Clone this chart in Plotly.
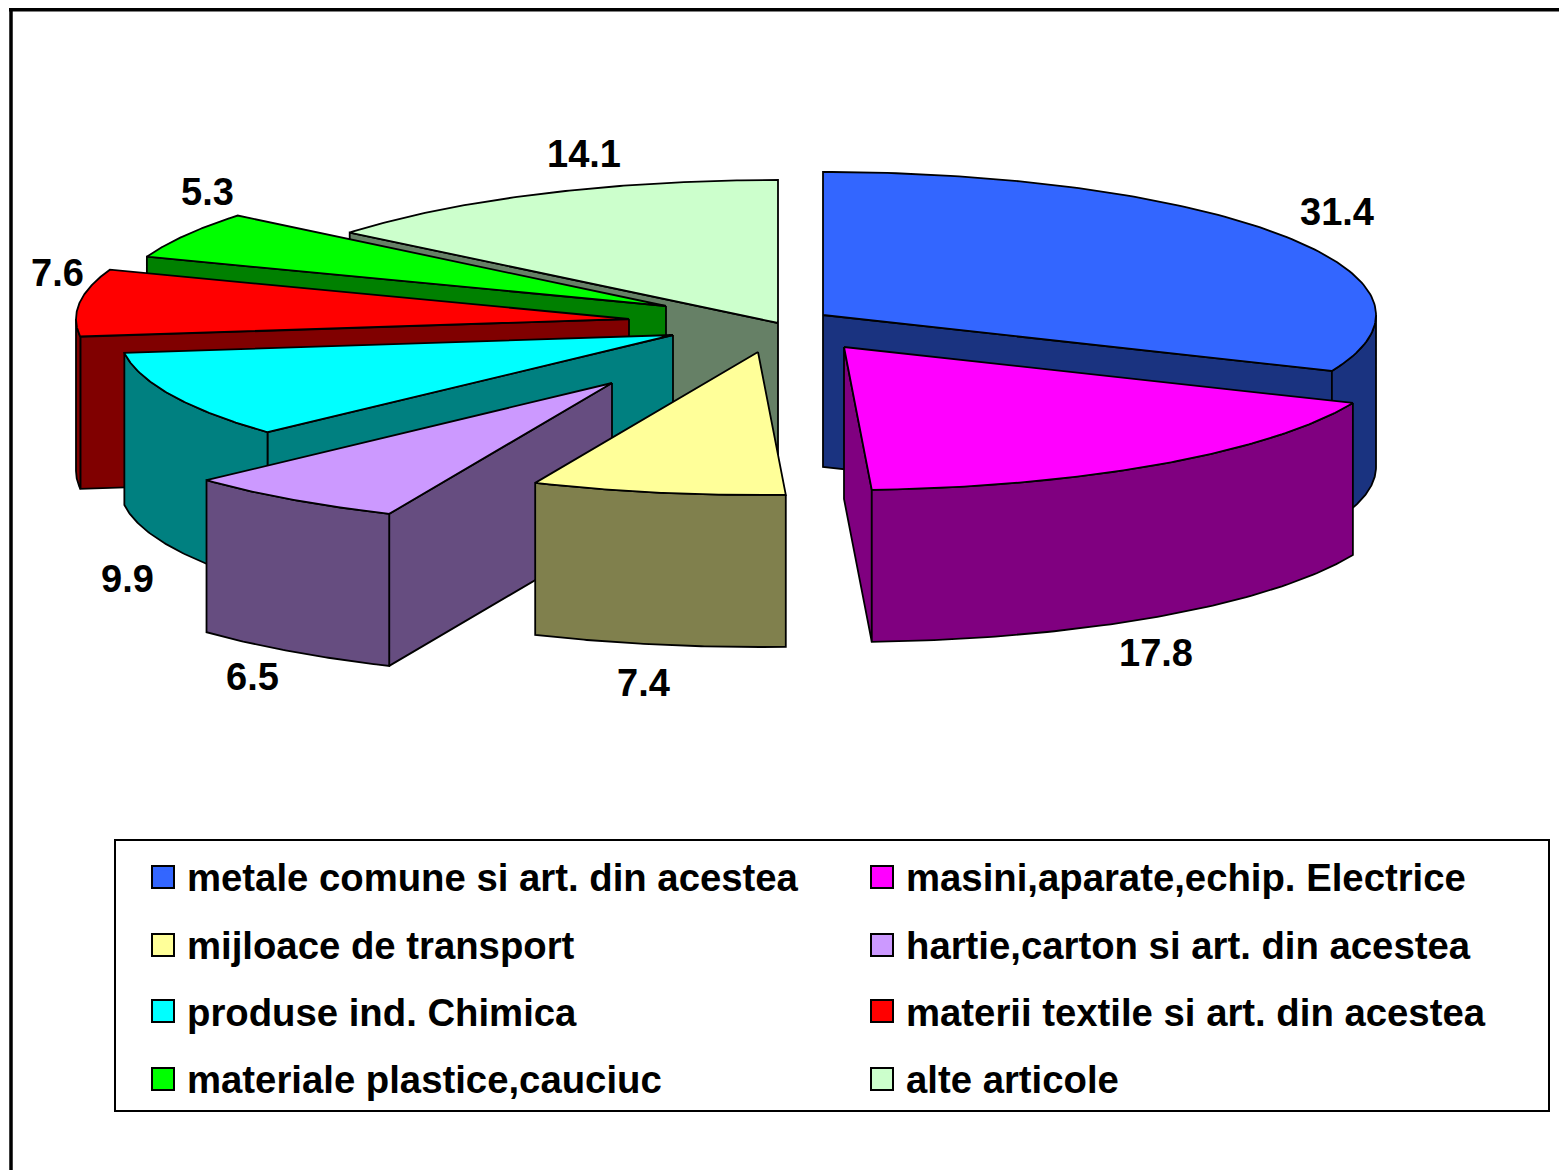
import numpy as np
import plotly.graph_objects as go

# ---- data ----
CATEGORIES = ["metale comune si art. din acestea", "masini,aparate,echip. Electrice",
              "mijloace de transport", "hartie,carton si art. din acestea",
              "produse ind. Chimica", "materii textile si art. din acestea",
              "materiale plastice,cauciuc", "alte articole"]
VALUES = [31.4, 17.8, 7.4, 6.5, 9.9, 7.6, 5.3, 14.1]

# ---- style ----
TOP_COLORS = ["#3366FF", "#FF00FF", "#FFFF99", "#CC99FF", "#00FFFF", "#FF0000", "#00FF00", "#CCFFCC"]
WALL_COLORS = ["#1A3380", "#800080", "#80804D", "#664D80", "#008080", "#800000", "#008000", "#668066"]
# exploded centre of each slice, in plot units
CENTRES = [(823, 315), (844, 347), (758, 352), (612, 383), (673, 335), (629, 319), (666, 306), (778, 323)]
LABEL_POS = [(1337, 212), (1156, 653), (643, 683), (252, 677), (127, 579), (57, 273), (207, 192), (584, 154)]
DRAW_ORDER = [7, 6, 5, 4, 3, 2, 0, 1]
RX, RY, DEPTH = 553, 143, 152
W, H = 1559, 1170
FONT = "Liberation Sans"
LABEL_SIZE = 38
LEGEND_SIZE = 38.3

total = sum(VALUES)
edges = np.concatenate([[0], np.cumsum(VALUES)]) / total * 2 * np.pi


def rim(cx, cy, t):
    return cx + RX * np.sin(t), cy - RY * np.cos(t)


def poly(xs, ys, fill):
    return go.Scatter(x=list(xs), y=list(ys), mode="lines", fill="toself", fillcolor=fill,
                      line=dict(color="black", width=1.8), hoverinfo="skip", showlegend=False)


fig = go.Figure()

for i in DRAW_ORDER:
    a, b = edges[i], edges[i + 1]
    cx, cy = CENTRES[i]
    wall = WALL_COLORS[i]
    # radial wall at the start / end of the slice, when it faces the viewer
    for t, visible in ((a, np.sin(a) < -1e-6), (b, np.sin(b) > 1e-6)):
        if visible:
            px, py = rim(cx, cy, t)
            fig.add_trace(poly([cx, px, px, cx, cx], [cy, py, py + DEPTH, cy + DEPTH, cy], wall))
    # outer wall, front half of the rim only
    lo, hi = max(a, np.pi / 2), min(b, 3 * np.pi / 2)
    if hi > lo:
        t = np.linspace(lo, hi, 80)
        rx, ry = rim(cx, cy, t)
        fig.add_trace(poly(np.r_[rx, rx[::-1], rx[0]], np.r_[ry, ry[::-1] + DEPTH, ry[0]], wall))
    # top face
    t = np.linspace(a, b, 120)
    rx, ry = rim(cx, cy, t)
    fig.add_trace(poly(np.r_[cx, rx, cx], np.r_[cy, ry, cy], TOP_COLORS[i]))

# legend entries (two columns)
for i, (name, col) in enumerate(zip(CATEGORIES, TOP_COLORS)):
    fig.add_trace(go.Scatter(x=[None], y=[None], mode="markers", name=name,
                             marker=dict(symbol="square", size=12, color=col),
                             legend="legend" if i % 2 == 0 else "legend2",
                             legendgroup=f"g{i}", hoverinfo="skip"))

annotations = [dict(x=x, y=y, text=f"{v:.1f}", showarrow=False, xanchor="center", yanchor="middle",
                    font=dict(family=FONT, size=LABEL_SIZE, color="black", weight=700))
               for v, (x, y) in zip(VALUES, LABEL_POS)]

shapes = [
    dict(type="line", x0=11, x1=11, y0=8, y1=H, line=dict(color="black", width=3.5)),
    dict(type="line", x0=9, x1=W, y0=9.7, y1=9.7, line=dict(color="black", width=3.5)),
    dict(type="rect", x0=115, x1=1549, y0=840, y1=1111, line=dict(color="black", width=2)),
]
SW_X = [152, 871]
SW_Y = [866, 934, 1000, 1068]
for r, y in enumerate(SW_Y):
    for c, x in enumerate(SW_X):
        shapes.append(dict(type="rect", x0=x, x1=x + 22, y0=y, y1=y + 22, layer="above",
                           fillcolor=TOP_COLORS[2 * r + c], line=dict(color="black", width=2)))

legend_style = dict(orientation="v", xanchor="left", yanchor="top", y=1 - 845 / H,
                    bgcolor="rgba(0,0,0,0)", borderwidth=0, tracegroupgap=14.5,
                    font=dict(family=FONT, size=LEGEND_SIZE, color="black", weight=700), itemclick=False)

fig.update_layout(
    width=W, height=H, margin=dict(l=0, r=0, t=0, b=0), paper_bgcolor="white", plot_bgcolor="white",
    xaxis=dict(range=[0, W], visible=False, fixedrange=True),
    yaxis=dict(range=[H, 0], visible=False, fixedrange=True),
    showlegend=True,
    legend=dict(x=147 / W, **legend_style),
    legend2=dict(x=866 / W, **legend_style),
    annotations=annotations, shapes=shapes,
)

fig.write_html("out.html", config={"displayModeBar": False},
               post_script="document.body.style.margin='0';")
